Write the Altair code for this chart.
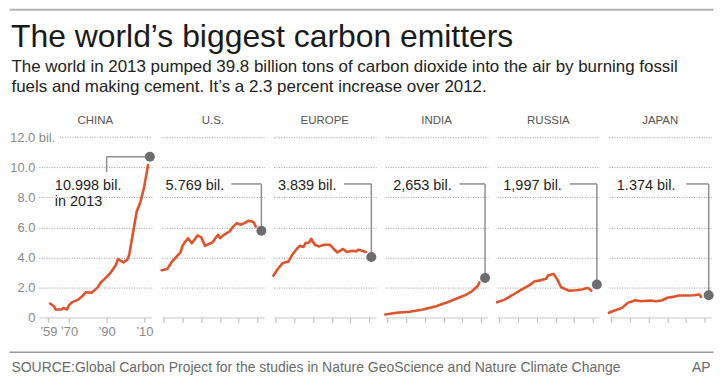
import altair as alt
import pandas as pd

# ---------------- data (billion tons of CO2) ----------------
regions = ["CHINA", "U.S.", "EUROPE", "INDIA", "RUSSIA", "JAPAN"]

china_years = [1960, 1962, 1963, 1966, 1967, 1969, 1970, 1972, 1975, 1977, 1979, 1982, 1985,
               1987, 1990, 1992, 1995, 1996, 1999, 2001, 2002, 2004, 2006, 2008, 2010, 2012]
china_values = [0.93, 0.75, 0.53, 0.53, 0.64, 0.53, 0.82, 1.04, 1.19, 1.41, 1.68, 1.64, 1.97,
                2.34, 2.70, 2.96, 3.51, 3.89, 3.67, 3.85, 4.18, 5.62, 7.05, 7.71, 8.71, 10.15]

us_years = [1959, 1962, 1964, 1967, 1969, 1970, 1971, 1973, 1975, 1977, 1978, 1980, 1982, 1984,
            1986, 1988, 1989, 1990, 1992, 1995, 1997, 1999, 2001, 2003, 2005, 2007, 2008, 2009]
us_values = [3.14, 3.23, 3.63, 4.07, 4.33, 4.73, 4.95, 5.28, 4.95, 5.28, 5.46, 5.35, 4.77, 4.89,
             4.99, 5.35, 5.50, 5.28, 5.50, 5.72, 6.05, 6.28, 6.17, 6.28, 6.43, 6.39, 6.32, 6.05]

europe_years = [1959, 1961, 1964, 1967, 1969, 1971, 1973, 1975, 1976, 1978, 1979, 1981, 1983,
                1986, 1989, 1991, 1993, 1996, 1998, 2001, 2003, 2004, 2006, 2008]
europe_values = [2.79, 3.18, 3.63, 3.73, 4.18, 4.51, 4.77, 4.69, 4.95, 4.99, 5.24, 4.84, 4.73,
                 4.84, 4.84, 4.56, 4.33, 4.56, 4.36, 4.44, 4.40, 4.51, 4.44, 4.36]

india_years = [1959, 1965, 1972, 1979, 1986, 1992, 1997, 2001, 2005, 2008, 2009]
india_values = [0.20, 0.31, 0.38, 0.53, 0.75, 1.01, 1.26, 1.46, 1.74, 2.08, 2.34]

russia_years = [1959, 1963, 1967, 1971, 1976, 1979, 1982, 1985, 1986, 1989, 1991, 1993, 1997,
                2001, 2004, 2007, 2008, 2009]
russia_values = [1.01, 1.19, 1.48, 1.79, 2.14, 2.41, 2.47, 2.57, 2.79, 2.90, 2.52, 2.01, 1.79,
                 1.81, 1.86, 1.97, 1.90, 1.79]

japan_years = [1959, 1962, 1966, 1969, 1973, 1976, 1981, 1984, 1987, 1990, 1993, 1996, 2000,
               2004, 2007, 2008]
japan_values = [0.31, 0.46, 0.64, 0.97, 1.15, 1.08, 1.13, 1.08, 1.13, 1.31, 1.37, 1.46, 1.46,
                1.48, 1.53, 1.37]

# latest (2013) point shown as a grey dot, with its label
dot_years = [2013, 2012, 2011, 2012, 2012, 2012]
dot_values = [10.7, 5.77, 4.02, 2.63, 2.19, 1.48]
dot_labels = ["10.998 bil.\nin 2013", "5.769 bil.", "3.839 bil.", "2,653 bil.", "1,997 bil.", "1.374 bil."]

china_tick_years = [1959, 1970, 1990, 2010]
other_tick_years = [1960, 1970, 1980, 1990, 2000, 2010]
y_ticks = [0, 2, 4, 6, 8, 10, 12]

title_text = "The world\u2019s biggest carbon emitters"
subtitle_lines = [
    "The world in 2013 pumped 39.8 billion tons of carbon dioxide into the air by burning fossil",
    "fuels and making cement. It\u2019s a 2.3 percent increase over 2012.",
]
source_text = "SOURCE:Global Carbon Project for the studies in Nature GeoScience and Nature Climate Change"
credit_text = "AP"

series_years = [china_years, us_years, europe_years, india_years, russia_years, japan_years]
series_values = [china_values, us_values, europe_values, india_values, russia_values, japan_values]

# ---------------- annotation layout (styling, not data) ----------------
PX_PER_YEAR = 1.89
PLOT_H = 181
LEADER_LEVEL = 8.89       # y (value units) of horizontal leader lines
LABEL_BASE = 8.52         # baseline of value labels
CHINA_LEADER_BOTTOM = 9.68
label_x = [1962.5, 1961.1, 1961.4, 1963.2, 1962.3, 1963.2]
leader_x = [1990, 1996, 1996.5, 1998.4, 1997.6, 2000]
LEFT_EXT = 29.5           # width of the China y-axis labels (header/footer start there)

ORANGE = "#e0542b"
DOT = "#6b6c6e"
LEADER = "#8f8f8f"
GRID = "#9c9c9c"
FONT = "Liberation Sans"
NARROW = "Liberation Sans Narrow, Liberation Sans"


def panel(i):
    first = i == 0
    dom = [1954, 2014] if first else [1959, 2013.5]
    width = round((dom[1] - dom[0]) * PX_PER_YEAR, 1)
    xs = alt.Scale(domain=dom, nice=False, zero=False)
    ys = alt.Scale(domain=[0, 12], nice=False)

    if first:
        xaxis = alt.Axis(values=china_tick_years,
                         labelExpr="'\u2019' + slice(format(datum.value, 'd'), 2)",
                         labelFontSize=13, labelColor="#8a8a8a", labelFont=FONT,
                         labelPadding=3, labelOverlap=False, labelFlush=False, labelBound=False,
                         tickSize=5, tickColor="#b5b5b5", domainColor="#c6c6c6",
                         grid=False, title=None)
        yaxis = alt.Axis(values=y_ticks,
                         labelExpr="datum.value == 12 ? '12.0 bil.' : (datum.value == 0 ? '0' : format(datum.value, '.1f'))",
                         labelFontSize=13, labelColor="#8a8a8a", labelFont=FONT,
                         labelOverlap=False, labelBound=False, labelFlush=False,
                         labelPadding={"condition": {"test": "datum.value == 12", "value": -16}, "value": 4},
                         ticks=False, domain=False, grid=True, gridDash=[1, 1.5], gridWidth=1,
                         gridColor={"condition": {"test": "datum.value == 0 || datum.value == 12",
                                                  "value": "transparent"}, "value": GRID},
                         title=None, minExtent=0)
    else:
        xaxis = alt.Axis(values=other_tick_years, labels=False,
                         tickSize=5, tickColor="#b5b5b5", domainColor="#c6c6c6",
                         grid=False, title=None)
        yaxis = alt.Axis(values=y_ticks, labels=False, ticks=False, domain=False,
                         grid=True, gridDash=[1, 1.5], gridWidth=1,
                         gridColor={"condition": {"test": "datum.value == 0", "value": "transparent"},
                                    "value": GRID},
                         title=None, minExtent=0, maxExtent=0)

    def X(f):
        return alt.X(f, scale=xs, axis=xaxis)

    def Y(f):
        return alt.Y(f, scale=ys, axis=yaxis)

    line_df = pd.DataFrame({"year": series_years[i], "value": series_values[i]})
    dot_df = pd.DataFrame({"year": [dot_years[i]], "value": [dot_values[i]],
                           "label": [dot_labels[i]], "lx": [label_x[i]], "kx": [leader_x[i]]})

    line = alt.Chart(line_df).mark_line(color=ORANGE, strokeWidth=2.6, strokeJoin="round",
                                        strokeCap="round").encode(
        x=X("year:Q"), y=Y("value:Q"))

    layers = []
    if first:
        # 12.0 gridline starts after the "12.0 bil." label
        grid12 = alt.Chart(pd.DataFrame({"y": [12]})).transform_calculate(
            a="1965.2", b=str(dom[1])).mark_rule(
            color=GRID, strokeDash=[1, 1.5], strokeWidth=1).encode(
            x=X("a:Q"), x2="b:Q", y=Y("y:Q"))
        layers.append(grid12)
        lead_v = alt.Chart(dot_df).transform_calculate(top=str(CHINA_LEADER_BOTTOM)).mark_rule(
            color=LEADER, strokeWidth=1.5).encode(
            x=X("kx:Q"), y=Y("top:Q"), y2="value:Q")
        lead_h = alt.Chart(dot_df).mark_rule(color=LEADER, strokeWidth=1.5).encode(
            x=X("kx:Q"), x2="year:Q", y=Y("value:Q"))
    else:
        lead_h = alt.Chart(dot_df).transform_calculate(lvl=str(LEADER_LEVEL)).mark_rule(
            color=LEADER, strokeWidth=1.5).encode(
            x=X("kx:Q"), x2="year:Q", y=Y("lvl:Q"))
        lead_v = alt.Chart(dot_df).transform_calculate(lvl=str(LEADER_LEVEL)).mark_rule(
            color=LEADER, strokeWidth=1.5).encode(
            x=X("year:Q"), y=Y("lvl:Q"), y2="value:Q")

    dot = alt.Chart(dot_df).mark_circle(color=DOT, opacity=1, size=100).encode(
        x=X("year:Q"), y=Y("value:Q"))
    label = alt.Chart(dot_df).transform_calculate(base=str(LABEL_BASE)).mark_text(
        align="left", baseline="alphabetic", fontSize=14.5, font=FONT, color="#1e1e1e",
        lineBreak="\n", lineHeight=16.5).encode(
        x=X("lx:Q"), y=Y("base:Q"), text="label:N")

    layers += [line, lead_h, lead_v, dot, label]
    return alt.layer(*layers).properties(
        width=width, height=PLOT_H,
        title=alt.TitleParams(regions[i], fontSize=11.5, font=NARROW, color="#555555",
                              fontWeight="normal", offset=-4 if first else 2,
                              baseline="alphabetic", anchor="middle", frame="group"),
    )


middle = alt.hconcat(*[panel(i) for i in range(6)], spacing=9.3, bounds="flush")

FULL_W = 707
X0 = -LEFT_EXT
bar_scale = alt.Scale(domain=[0, 1], range=[X0, X0 + FULL_W])
bar_df = pd.DataFrame({"a": [0], "b": [1]})


def hbar(color, width):
    return alt.Chart(bar_df).mark_rule(color=color, strokeWidth=width).encode(
        x=alt.X("a:Q", scale=bar_scale, axis=None), x2="b:Q", y=alt.value(0))


header = alt.layer(
    hbar("#b3b3b3", 2),
    alt.Chart(pd.DataFrame({"t": [title_text]})).mark_text(
        align="left", baseline="alphabetic", fontSize=32, font=FONT, color="#1a1a1a").encode(
        x=alt.value(X0 + 1.5), y=alt.value(37), text="t:N"),
    alt.Chart(pd.DataFrame({"t": [subtitle_lines[0]]})).mark_text(
        align="left", baseline="alphabetic", fontSize=17, font=FONT, color="#222222").encode(
        x=alt.value(X0 + 2), y=alt.value(62), text="t:N"),
    alt.Chart(pd.DataFrame({"t": [subtitle_lines[1]]})).mark_text(
        align="left", baseline="alphabetic", fontSize=17, font=FONT, color="#222222").encode(
        x=alt.value(X0 + 2), y=alt.value(83), text="t:N"),
).properties(width=FULL_W - LEFT_EXT, height=92)

footer = alt.layer(
    hbar("#9a9a9a", 1.5),
    alt.Chart(pd.DataFrame({"t": [source_text]})).mark_text(
        align="left", baseline="alphabetic", fontSize=14, font=FONT, color="#6a6a6a").encode(
        x=alt.value(X0 + 2), y=alt.value(19.5), text="t:N"),
    alt.Chart(pd.DataFrame({"t": [credit_text]})).mark_text(
        align="right", baseline="alphabetic", fontSize=14, font=FONT, color="#6a6a6a").encode(
        x=alt.value(X0 + 704), y=alt.value(19.5), text="t:N"),
).properties(width=FULL_W - LEFT_EXT, height=20)

chart = alt.concat(header, middle, footer, columns=1, spacing=13).properties(
    padding=0, background="white"
).configure(font=FONT, view=alt.ViewConfig(stroke=None))

chart.save("out.html", embed_options={"renderer": "svg", "actions": False})
